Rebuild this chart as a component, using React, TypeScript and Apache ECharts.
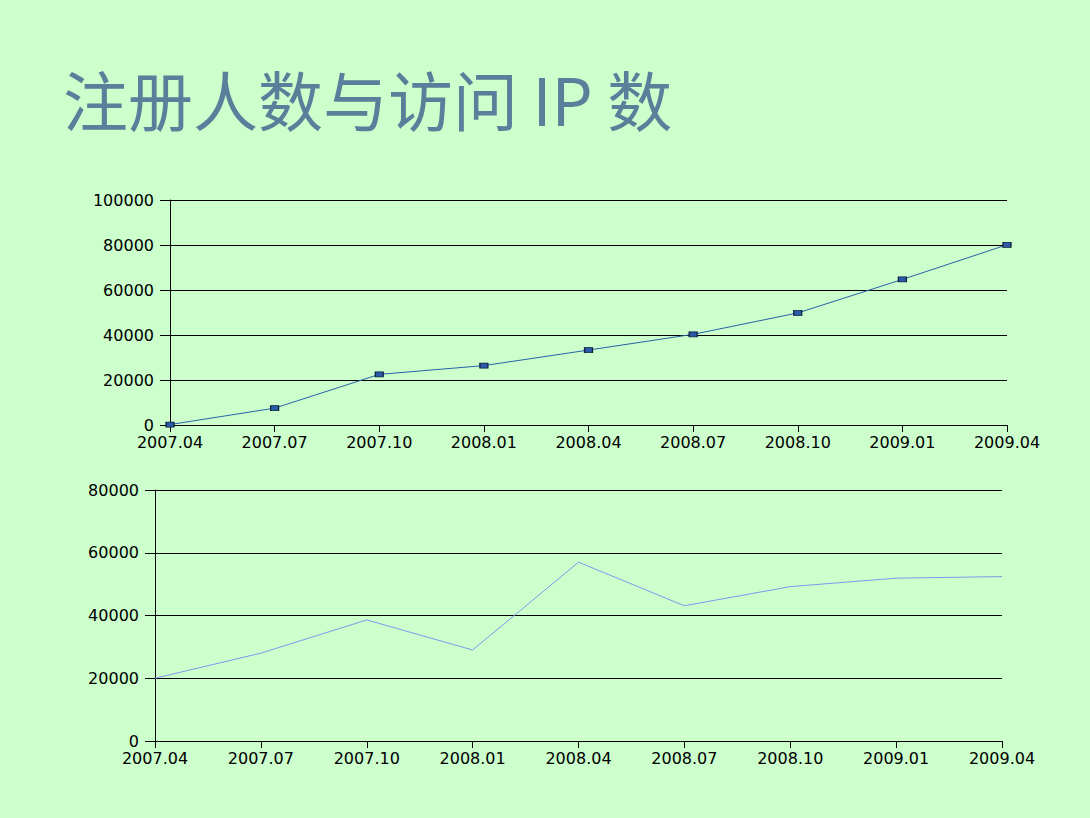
import React, { useEffect, useRef } from "react";
import * as echarts from "echarts";

const categories = ["2007.04", "2007.07", "2007.10", "2008.01", "2008.04", "2008.07", "2008.10", "2009.01", "2009.04"];
const registeredUsers = [200, 7500, 22500, 26400, 33300, 40300, 49800, 64700, 80100];
const visitIPs = [20000, 28000, 38600, 29000, 57000, 43100, 49200, 51900, 52400];
const titleText = "注册人数与访问 IP 数";

const labelFont = { fontFamily: "DejaVu Sans", fontSize: 16, color: "#000000" };

export default function App() {
  const ref = useRef<HTMLDivElement>(null);
  useEffect(() => {
    if (!ref.current) return;
    const chart = echarts.init(ref.current, null, { renderer: "svg" });
    const xAxisBase = {
      type: "category",
      data: categories,
      boundaryGap: false,
      axisLine: { lineStyle: { color: "#000", width: 1 } },
      axisTick: { show: true, alignWithLabel: true, length: 7, lineStyle: { color: "#000" } },
      axisLabel: { ...labelFont, margin: 10, interval: 0, lineHeight: 14 },
      splitLine: { show: false },
    };
    const yAxisBase = {
      type: "value",
      min: 0,
      interval: 20000,
      axisLine: { show: true, lineStyle: { color: "#000", width: 1 } },
      axisTick: { show: true, length: 10, lineStyle: { color: "#000" } },
      axisLabel: { ...labelFont, margin: 16, lineHeight: 12, formatter: (v: number) => String(v) },
      splitLine: { show: true, lineStyle: { color: "#000", width: 1 } },
    };
    chart.setOption({
      animation: false,
      backgroundColor: "#ccffcc",
      title: {
        text: titleText,
        left: 58,
        top: 60,
        textStyle: { fontFamily: "Noto Sans CJK SC", fontSize: 65, fontWeight: "normal", color: "#5b7f9a" },
      },
      grid: [
        { left: 170, right: 83, top: 200, height: 225 },
        { left: 155, right: 88, top: 490, height: 251 },
      ],
      xAxis: [
        { ...xAxisBase, gridIndex: 0 },
        { ...xAxisBase, gridIndex: 1 },
      ],
      yAxis: [
        { ...yAxisBase, gridIndex: 0, max: 100000 },
        { ...yAxisBase, gridIndex: 1, max: 80000 },
      ],
      series: [
        {
          type: "line",
          xAxisIndex: 0,
          yAxisIndex: 0,
          data: registeredUsers,
          symbol: "rect",
          symbolSize: [8, 5],
          showAllSymbol: true,
          lineStyle: { color: "#2a62a8", width: 1 },
          itemStyle: { color: "#2a5aa8", borderColor: "#0d1f3c", borderWidth: 1 },
        },
        {
          type: "line",
          xAxisIndex: 1,
          yAxisIndex: 1,
          data: visitIPs,
          symbol: "none",
          lineStyle: { color: "#7f97ee", width: 1 },
        },
      ],
    });
    return () => chart.dispose();
  }, []);
  return <div ref={ref} style={{ position: "fixed", left: 0, top: 0, width: 1090, height: 818 }} />;
}
